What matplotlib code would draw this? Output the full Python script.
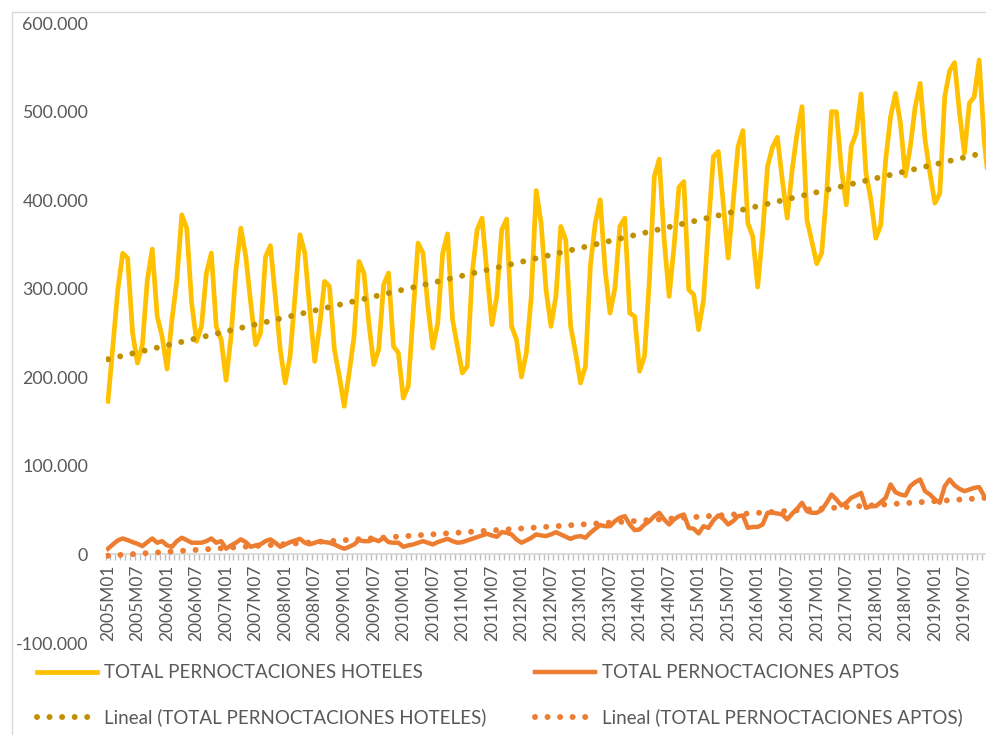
import numpy as np
import matplotlib
matplotlib.use("Agg")
import matplotlib.pyplot as plt
from matplotlib.lines import Line2D
from matplotlib.patches import Rectangle
from matplotlib.ticker import FixedLocator, FuncFormatter

plt.rcParams['font.family'] = ['Lato', 'DejaVu Sans']

# Monthly periods 2005M01 .. 2019M12
periods = [f"{y}M{m:02d}" for y in range(2005, 2020) for m in range(1, 13)]

# Overnight stays, hotels
hoteles = [
    172900, 235000, 298900, 340000, 334600, 250000, 216000, 236800, 310000, 344700, 268800, 246000,
    209400, 265000, 310000, 383400, 368400, 283800, 240600, 257500, 317700, 340200, 257500, 242500,
    196600, 246000, 321400, 368400, 336500, 283800, 236800, 250000, 335700, 348500, 291300, 231200,
    193600, 223700, 291300, 360900, 340200, 276300, 218000, 257500, 308300, 302600, 231200, 201100,
    167300, 204900, 246000, 330800, 317700, 261300, 214300, 231200, 304500, 317700, 235000, 227500,
    176500, 189800, 272500, 351500, 340200, 280000, 233100, 261300, 340200, 362000, 265000, 235000,
    204900, 212400, 317700, 366500, 379700, 317700, 259400, 291300, 366500, 378600, 257500, 242500,
    200400, 227500, 291300, 410900, 374000, 298900, 257500, 291300, 370300, 355200, 257500, 227500,
    193600, 212400, 325200, 374000, 400400, 321400, 272500, 300700, 370300, 379700, 272500, 268800,
    206800, 223700, 310100, 426700, 446200, 355200, 291300, 347700, 414600, 421000, 298900, 293200,
    253700, 287600, 371400, 449200, 454900, 396600, 334600, 396600, 460500, 478500, 374000, 359000,
    301900, 362800, 437900, 459800, 471000, 422900, 379700, 434200, 475500, 505600, 377800, 353400,
    328200, 340200, 407900, 500000, 499600, 435000, 394700, 460500, 475500, 519900, 430400, 400400,
    357000, 372000, 445500, 494300, 520600, 486800, 427400, 460500, 505600, 531900, 468000, 430400,
    396600, 407900, 516900, 546200, 555300, 498100, 453000, 509400, 516900, 558200, 468000, 415400,
]

# Overnight stays, tourist apartments
aptos = [
    6400, 11300, 15800, 18000, 16200, 13900, 12000, 9400, 13900, 18000, 13200, 15000,
    10200, 8600, 15000, 18800, 16200, 13200, 13200, 13200, 15000, 18000, 13200, 15000,
    6400, 10200, 13200, 17000, 13900, 8600, 10200, 11300, 15000, 17000, 13200, 8600,
    11300, 13900, 15800, 17600, 13200, 11300, 13200, 15000, 13900, 13200, 11300, 8600,
    6400, 8600, 11300, 16200, 15000, 15000, 17000, 15000, 18800, 13900, 13200, 13200,
    8600, 10200, 11300, 13200, 15000, 13200, 11300, 13900, 15800, 17600, 15000, 13200,
    13900, 15800, 17600, 19500, 21400, 23300, 21400, 19900, 25200, 24400, 22600, 16900,
    13200, 15800, 18800, 22600, 21400, 20700, 22600, 25200, 22600, 19900, 17600, 19900,
    20700, 18800, 24400, 28900, 33100, 31900, 31900, 37600, 41400, 43200, 33800, 27400,
    28200, 33800, 37600, 43200, 47000, 39500, 33800, 39500, 43200, 45100, 30000, 29000,
    23700, 31900, 30000, 38400, 44000, 40300, 33800, 37600, 43200, 44000, 30000, 31000,
    31000, 33800, 47000, 47000, 46200, 45100, 39500, 46000, 51500, 58300, 48900, 47000,
    47000, 50000, 58300, 67700, 62000, 55300, 58300, 63900, 66500, 69500, 52600, 54500,
    54500, 59000, 63900, 79000, 70200, 67700, 66500, 77100, 81600, 84600, 71400, 67700,
    62000, 58300, 77100, 84600, 78000, 74000, 71400, 73300, 75200, 76000, 66000, 62000,
]

y_ticks = [-100000, 0, 100000, 200000, 300000, 400000, 500000, 600000]

names = ["TOTAL PERNOCTACIONES HOTELES", "TOTAL PERNOCTACIONES APTOS"]
col_hot = "#FFC000"
col_apt = "#ED7D31"
col_hot_trend = "#BF9000"
col_apt_trend = "#ED7D31"

W, H = 987, 735
fig = plt.figure(figsize=(W / 100, H / 100), dpi=100)

# outer chart frame
fig.add_artist(Rectangle((12 / W, -0.1), 1.2, (H - 12) / H + 0.1,
                         transform=fig.transFigure, fill=False,
                         edgecolor="#D9D9D9", lw=1.0))

left_px, right_px, top_px, bot_px = 105.5, 991.5, 23, 643
ax = fig.add_axes([left_px / W, (H - bot_px) / H,
                   (right_px - left_px) / W, (bot_px - top_px) / H])

x = np.arange(len(periods))
hot = np.array(hoteles, dtype=float)
apt = np.array(aptos, dtype=float)

ax.plot(x, hot, color=col_hot, lw=3.4, solid_joinstyle="round", zorder=3)
ax.plot(x, apt, color=col_apt, lw=3.2, solid_joinstyle="round", zorder=3)

# linear trend lines
dot_style = dict(lw=4.3, linestyle=(0, (0.001, 2.1)), dash_capstyle="round")
ph = np.polyfit(x, hot, 1)
pa = np.polyfit(x, apt, 1)
ax.plot(x, np.polyval(ph, x), color=col_hot_trend, zorder=4, **dot_style)
ax.plot(x, np.polyval(pa, x), color=col_apt_trend, zorder=4, **dot_style)

ax.set_xlim(-0.5, len(periods) - 0.5)
ax.set_ylim(y_ticks[0], y_ticks[-1])

for s in ["top", "right", "left"]:
    ax.spines[s].set_visible(False)
ax.spines["bottom"].set_position(("data", 0))
ax.spines["bottom"].set_color("#D9D9D9")
ax.spines["bottom"].set_linewidth(1.3)

label_pos = x[::6]
ax.xaxis.set_major_locator(FixedLocator(label_pos))
ax.set_xticklabels([periods[i] for i in label_pos], rotation=90)
ax.xaxis.set_minor_locator(FixedLocator(np.arange(-0.5, len(periods), 1)))
ax.tick_params(axis="x", which="major", length=0, pad=7.5,
               labelsize=12.5, labelcolor="#595959")
ax.tick_params(axis="x", which="minor", length=4, width=1, color="#BFBFBF")

ax.yaxis.set_major_locator(FixedLocator(y_ticks))
ax.yaxis.set_major_formatter(FuncFormatter(
    lambda v, p: f"{int(v):,}".replace(",", ".")))
ax.tick_params(axis="y", length=0, pad=12.5, labelsize=12.8, labelcolor="#595959")

# legend, two columns
fs = 13.5
h_hot = Line2D([], [], color=col_hot, lw=3.4)
h_apt = Line2D([], [], color=col_apt, lw=3.2)
h_hot_t = Line2D([], [], color=col_hot_trend, **dot_style)
h_apt_t = Line2D([], [], color=col_apt_trend, **dot_style)
common = dict(loc="center left", frameon=False, fontsize=fs, borderpad=0,
              borderaxespad=0, handlelength=3.2, handletextpad=0.4,
              labelspacing=1.45, labelcolor="#595959")
fig.legend([h_hot, h_hot_t], [names[0], f"Lineal ({names[0]})"],
           bbox_to_anchor=(37 / W, 1 - 695.5 / H), **common)
fig.legend([h_apt, h_apt_t], [names[1], f"Lineal ({names[1]})"],
           bbox_to_anchor=(535 / W, 1 - 695.5 / H), **common)

fig.savefig("out.png", dpi=100)
